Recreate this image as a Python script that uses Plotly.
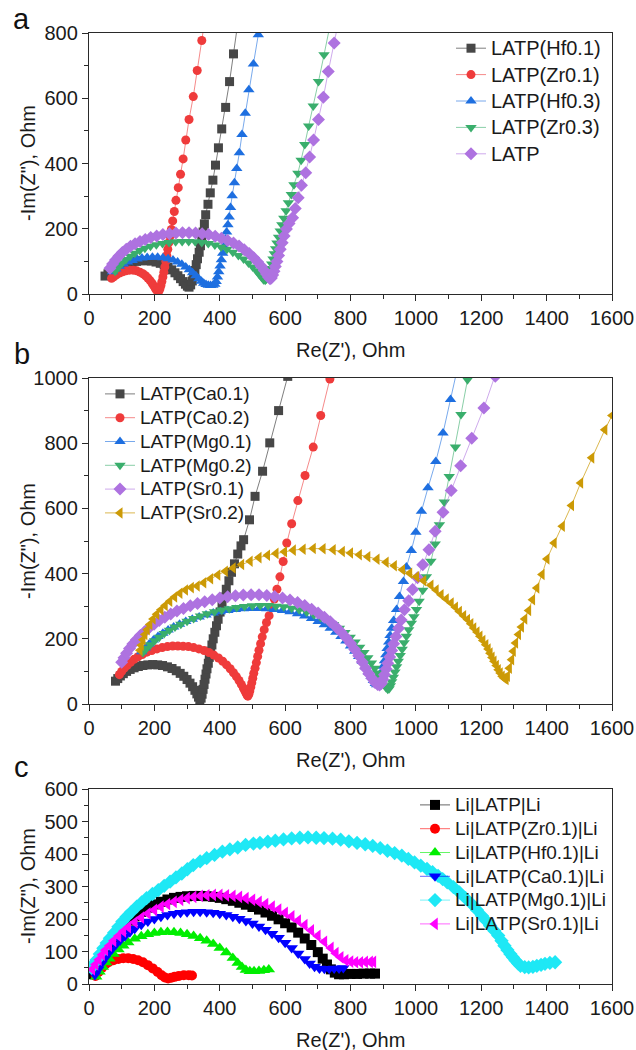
import plotly.graph_objects as go

# ---------------- data (Re(Z'), -Im(Z'')) ----------------
# Panel a
A_NAMES = ["LATP(Hf0.1)", "LATP(Zr0.1)", "LATP(Hf0.3)", "LATP(Zr0.3)", "LATP"]
A_HF01 = [(49,55),(58,62),(68,69),(80,76),(92,82),(105,88),(118,93),(132,97),(146,100),(160,102),(175,102),(190,101),
          (205,98),(218,94),(230,89),(242,82),(253,74),(263,65),(272,56),(280,47),(288,38),(295,30),(301,24),(306,21),
          (311,28),(316,40),(320,55),(324,72),(328,90),(332,108),(337,128),(341,148),(345,170),(349,190),(353,215),
          (357,243),(364,275),(371,310),(379,349),(387,395),(396,448),(406,506),(418,572),(430,651),(442,736),(454,822)]
A_ZR01 = [(69,48),(76,53),(84,59),(93,64),(103,68),(113,71),(124,73),(135,73),(146,71),(156,67),(165,62),(173,56),
          (180,49),(187,41),(193,33),(198,25),(203,17),(207,11),(211,7),(214,9),(217,16),(220,26),(223,38),(226,52),
          (229,67),(232,83),(235,100),(238,118),(241,137),(244,157),(248,177),(252,198),(256,224),(261,253),(266,287),
          (273,326),(280,367),(288,414),(296,472),(306,535),(319,605),(331,685),(345,777),(359,870)]
A_HF03 = [(72,68),(82,77),(93,85),(105,92),(118,98),(132,103),(147,107),(162,110),(178,112),(194,113),(210,113),
          (226,111),(242,108),(257,104),(271,98),(284,91),(296,83),(307,74),(317,65),(327,56),(336,47),(344,39),
          (351,33),(358,29),(365,27),(372,26),(379,27),(385,30),(389,38),(393,52),(397,68),(401,86),(405,105),
          (409,125),(413,146),(417,168),(421,190),(425,212),(429,236),(433,265),(438,301),(445,341),(452,385),
          (460,433),(468,489),(478,554),(489,626),(503,705),(518,795),(533,885)]
A_ZR03 = [(80,70),(90,83),(101,95),(113,106),(126,116),(140,125),(155,133),(171,140),(188,146),(206,151),(225,155),
          (245,158),(265,160),(285,161),(305,161),(325,160),(345,158),(365,155),(385,150),(404,144),(422,137),
          (440,128),(457,118),(473,107),(488,95),(501,83),(512,71),(521,60),(528,51),(534,44),(539,42),(543,46),
          (547,54),(551,65),(555,78),(559,92),(563,107),(567,123),(571,139),(575,156),(580,174),(585,193),(590,212),
          (596,232),(603,255),(610,280),(619,305),(627,335),(639,370),(649,410),(660,458),(672,515),(686,576),
          (702,651),(719,733),(737,822)]
A_LATP = [(64,79),(72,92),(81,104),(91,116),(102,127),(114,137),(127,146),(141,154),(156,161),(172,167),(189,173),
          (207,178),(226,182),(246,185),(266,187),(286,188),(306,188),(326,187),(346,185),(366,182),(386,177),
          (405,171),(424,164),(442,156),(459,147),(475,136),(490,124),(504,111),(516,98),(527,85),(536,72),(543,61),
          (549,52),(554,47),(558,49),(562,58),(566,70),(570,84),(575,100),(580,118),(585,137),(591,157),(597,178),
          (604,199),(612,216),(623,234),(631,262),(640,295),(650,333),(663,372),(675,420),(687,472),(702,535),
          (717,603),(732,682),(750,769),(768,858)]

# Panel b
B_NAMES = ["LATP(Ca0.1)", "LATP(Ca0.2)", "LATP(Mg0.1)", "LATP(Mg0.2)", "LATP(Sr0.1)", "LATP(Sr0.2)"]
B_CA01 = [(81,70),(88,78),(96,86),(105,93),(115,100),(126,106),(138,111),(151,115),(165,118),(180,120),(195,121),
          (210,120),(225,118),(240,114),(254,109),(267,102),(279,94),(290,85),(300,75),(309,64),(317,53),(324,42),
          (330,31),(335,21),(339,12),(343,18),(346,30),(349,45),(352,60),(355,76),(358,92),(361,108),(365,125),
          (368,143),(372,162),(376,181),(380,200),(385,220),(390,240),(395,260),(401,282),(407,305),(413,328),
          (420,352),(428,378),(436,404),(445,430),(455,460),(465,485),(473,504),(491,565),(508,637),(531,714),
          (553,801),(580,900),(608,1005)]
B_CA02 = [(93,90),(100,100),(108,110),(117,119),(127,128),(138,137),(150,145),(163,152),(177,159),(192,164),
          (208,169),(224,173),(240,176),(256,178),(272,178),(288,177),(304,176),(320,173),(336,169),(352,164),
          (367,158),(382,150),(396,141),(409,131),(421,120),(432,108),(442,96),(451,84),(459,72),(466,60),(472,49),
          (477,40),(481,32),(484,27),(486,24),(489,30),(492,40),(495,52),(498,65),(501,79),(504,94),(508,110),
          (512,127),(516,146),(520,165),(525,185),(530,206),(536,228),(543,250),(551,271),(559,295),(567,322),
          (575,352),(584,390),(594,437),(605,494),(620,553),(639,624),(661,701),(686,788),(709,885),(737,997),
          (745,1030)]
B_MG01 = [(161,160),(172,172),(184,184),(197,196),(211,207),(226,217),(242,227),(259,236),(277,245),(296,253),
          (316,260),(337,267),(358,273),(380,279),(402,283),(425,287),(448,290),(472,292),(496,293),(520,293),
          (544,292),(568,290),(592,287),(615,283),(638,277),(660,270),(681,262),(701,253),(720,243),(738,232),
          (755,220),(771,207),(786,193),(800,178),(813,162),(825,146),(836,130),(846,114),(855,98),(863,84),
          (870,72),(876,63),(880,59),(884,62),(888,72),(892,85),(896,100),(900,116),(904,133),(908,151),(912,170),
          (917,190),(921,210),(926,232),(932,256),(941,290),(950,330),(962,376),(971,420),(986,471),(1000,527),
          (1017,591),(1037,663),(1061,744),(1083,831),(1106,934),(1125,1020)]
B_MG02 = [(165,158),(176,170),(188,182),(201,194),(215,205),(230,216),(246,226),(263,236),(281,245),(300,254),
          (320,262),(341,270),(362,277),(384,283),(406,288),(429,292),(452,296),(476,299),(500,301),(524,302),
          (548,302),(572,300),(596,298),(620,294),(643,289),(666,282),(688,274),(709,265),(729,255),(748,244),
          (766,232),(783,219),(799,205),(814,190),(828,174),(841,158),(853,142),(864,126),(874,110),(883,95),
          (891,81),(898,69),(904,58),(909,50),(914,45),(918,47),(922,56),(926,68),(931,82),(936,98),(941,114),
          (946,131),(952,149),(958,168),(964,188),(971,208),(978,228),(986,248),(994,268),(1002,290),(1010,315),
          (1021,349),(1032,390),(1046,438),(1059,491),(1072,550),(1087,620),(1102,698),(1121,788),(1138,888),
          (1158,995),(1162,1020)]
B_SR01 = [(100,128),(107,142),(115,156),(124,170),(134,184),(145,197),(157,210),(170,222),(184,234),(199,245),
          (215,256),(232,266),(250,276),(269,285),(289,293),(310,301),(332,308),(354,314),(377,320),(400,325),
          (424,329),(448,332),(472,334),(496,335),(520,335),(544,333),(568,330),(592,325),(615,319),(638,311),
          (660,302),(681,291),(701,279),(720,266),(738,252),(755,237),(771,221),(786,204),(800,186),(813,167),
          (825,148),(836,129),(846,110),(856,93),(866,78),(875,66),(883,60),(889,58),(894,63),(899,75),(904,90),
          (909,107),(914,125),(920,144),(926,164),(932,185),(939,207),(947,232),(955,258),(965,289),(978,317),
          (990,351),(1005,387),(1021,427),(1040,473),(1059,530),(1083,588),(1108,655),(1137,731),(1171,815),
          (1208,908),(1243,1005),(1250,1030)]
B_SR02 = [(156,165),(160,180),(165,197),(171,213),(178,228),(186,244),(196,261),(207,275),(220,289),(233,302),
          (247,315),(262,328),(278,340),(295,350),(313,357),(331,362),(351,372),(372,384),(394,396),(417,407),
          (441,417),(467,428),(493,438),(520,449),(546,456),(572,462),(598,467),(625,472),(655,475),(686,477),
          (716,476),(747,473),(775,468),(800,463),(827,458),(853,452),(881,444),(909,435),(934,424),(959,412),
          (981,401),(1002,390),(1024,378),(1046,364),(1062,350),(1077,335),(1093,322),(1108,310),(1121,297),
          (1133,284),(1146,271),(1158,259),(1168,246),(1177,233),(1187,221),(1196,208),(1205,195),(1214,182),
          (1221,169),(1227,156),(1233,143),(1239,131),(1246,118),(1252,105),(1258,95),(1264,85),(1270,79),(1276,75),
          (1280,85),(1286,110),(1293,136),(1298,162),(1305,187),(1314,213),(1323,236),(1333,261),(1345,287),
          (1357,320),(1370,356),(1386,397),(1401,445),(1423,494),(1448,545),(1476,609),(1504,678),(1538,755),
          (1578,841),(1600,885)]

# Panel c
C_NAMES = ["Li|LATP|Li", "Li|LATP(Zr0.1)|Li", "Li|LATP(Hf0.1)|Li", "Li|LATP(Ca0.1)|Li",
           "Li|LATP(Mg0.1)|Li", "Li|LATP(Sr0.1)|Li"]
C_LATP = [(15,30),(25,50),(35,70),(45,88),(55,105),(65,120),(75,135),(85,150),(95,163),(110,180),(125,195),(140,208),
          (160,222),(180,235),(200,245),(220,253),(240,260),(260,265),(280,268),(300,270),(320,271),(340,271),
          (360,270),(380,268),(400,265),(420,261),(440,256),(460,250),(480,244),(500,237),(520,229),(540,220),
          (560,210),(580,199),(600,187),(620,174),(640,158),(660,140),(680,120),(700,98),(715,78),(728,60),(740,45),
          (752,35),(765,30),(780,30),(800,31),(820,31),(840,32),(860,32),(875,32)]
C_ZR01 = [(20,25),(30,38),(40,50),(50,60),(60,67),(75,73),(90,77),(105,79),(120,79),(135,77),(150,73),(165,67),
          (180,58),(195,48),(210,37),(222,27),(232,20),(242,17),(252,19),(262,22),(275,25),(290,27),(305,27),(315,26)]
C_HF01 = [(22,22),(32,38),(42,52),(52,66),(62,78),(75,92),(90,106),(105,118),(120,128),(140,139),(160,147),
          (180,153),(200,157),(220,159),(240,160),(260,159),(280,157),(300,153),(320,148),(340,141),(360,133),
          (380,123),(400,111),(420,97),(440,80),(455,65),(468,52),(480,43),(492,39),(505,39),(520,40),(535,42),
          (550,45)]
C_CA01 = [(18,28),(28,45),(38,62),(48,78),(58,92),(70,107),(82,121),(95,134),(110,147),(125,159),(140,170),
          (160,182),(180,192),(200,200),(220,207),(240,212),(260,216),(280,219),(300,221),(320,222),(340,222),
          (360,221),(380,219),(400,216),(420,212),(440,207),(460,201),(480,194),(500,186),(520,177),(540,167),
          (560,155),(580,142),(600,127),(620,111),(640,94),(660,77),(675,63),(690,53),(705,48),(720,47),(735,47),
          (750,48),(765,48),(778,49)]
C_MG01 = [(8,50),(15,62),(23,74),(33,92),(44,110),(54,126),(64,141),(77,158),(90,176),(102,192),(115,207),
          (130,222),(146,238),(161,251),(176,264),(194,277),(212,289),(230,302),(248,315),(266,328),(284,340),
          (301,353),(319,366),(340,377),(360,387),(384,397),(408,407),(431,414),(455,420),(479,428),(503,432),
          (523,434),(547,438),(570,441),(595,445),(620,448),(645,450),(670,451),(695,450),(719,449),(745,447),
          (770,444),(795,439),(820,434),(845,430),(868,425),(891,418),(913,410),(935,403),(957,395),(977,385),
          (996,374),(1015,364),(1034,354),(1051,344),(1068,333),(1082,323),(1096,313),(1115,298),(1133,282),
          (1152,264),(1171,246),(1187,228),(1202,210),(1215,195),(1227,179),(1240,164),(1252,149),(1262,133),
          (1271,118),(1280,105),(1289,92),(1297,82),(1305,72),(1313,63),(1320,56),(1333,52),(1345,51),(1358,53),
          (1370,56),(1383,59),(1395,62),(1410,65),(1426,67)]
C_SR01 = [(10,45),(20,60),(30,75),(40,90),(50,104),(62,118),(75,133),(90,148),(105,162),(120,175),(140,190),
          (160,204),(180,217),(200,228),(220,238),(240,246),(260,253),(280,259),(300,264),(320,268),(340,271),
          (360,273),(380,274),(400,274),(420,273),(440,271),(460,268),(480,264),(500,259),(520,253),(540,246),
          (560,238),(580,229),(600,219),(620,208),(640,195),(660,181),(680,165),(700,148),(720,130),(740,111),
          (755,95),(770,82),(785,73),(800,69),(815,67),(830,67),(845,68),(860,68),(870,68)]

X_TICKS = [0, 200, 400, 600, 800, 1000, 1200, 1400, 1600]

# ---------------- styling ----------------
W, H = 636, 1050
FONT = "Liberation Sans, Arial, Helvetica, sans-serif"
AX = "#2a2a2a"

def py(p):
    return 1 - p / H

X_DOM = [89 / W, 612 / W]
DOMS = {"a": [py(294), py(33)], "b": [py(704), py(378)], "c": [py(984), py(789)]}

A_STYLE = [("#474747", "rgba(71,71,71,0.7)", "square", 9),
           ("#EF3B3B", "rgba(239,59,59,0.6)", "circle", 9),
           ("#1E6FE0", "rgba(30,111,224,0.6)", "triangle-up", 10),
           ("#3AAE6C", "rgba(58,174,108,0.6)", "triangle-down", 10),
           ("#AE72E0", "rgba(174,114,224,0.6)", "diamond", 10)]
B_STYLE = [("#474747", "rgba(71,71,71,0.7)", "square", 9),
           ("#EF3B3B", "rgba(239,59,59,0.6)", "circle", 9),
           ("#1E6FE0", "rgba(30,111,224,0.6)", "triangle-up", 10),
           ("#3AAE6C", "rgba(58,174,108,0.6)", "triangle-down", 10),
           ("#AE72E0", "rgba(174,114,224,0.6)", "diamond", 10),
           ("#CC9A06", "rgba(204,154,6,0.7)", "triangle-left", 10)]
C_STYLE = [("#000000", "rgba(0,0,0,0.6)", "square", 10),
           ("#FF0000", "rgba(255,0,0,0.6)", "circle", 10),
           ("#00EE00", "rgba(0,238,0,0.6)", "triangle-up", 11),
           ("#0000FF", "rgba(0,0,255,0.6)", "triangle-down", 11),
           ("#1EE8F5", "rgba(30,232,245,0.6)", "diamond", 11),
           ("#FF00FF", "rgba(255,0,255,0.6)", "triangle-left", 11)]

fig = go.Figure()

def add_panel(names, datas, styles, xa, ya, leg, txt_size):
    for name, data, (mc, lc, sym, sz) in zip(names, datas, styles):
        xs, ys = zip(*data)
        fig.add_trace(go.Scatter(
            x=list(xs), y=list(ys),
            name="<span style='font-size:%dpx'>%s</span>" % (txt_size, name),
            mode="lines+markers",
            line=dict(color=lc, width=1),
            marker=dict(symbol=sym, size=sz, color=mc, line=dict(width=0)),
            xaxis=xa, yaxis=ya, legend=leg))

add_panel(A_NAMES, [A_HF01, A_ZR01, A_HF03, A_ZR03, A_LATP], A_STYLE, "x", "y", "legend", 20)
add_panel(B_NAMES, [B_CA01, B_CA02, B_MG01, B_MG02, B_SR01, B_SR02], B_STYLE, "x2", "y2", "legend2", 19)
add_panel(C_NAMES, [C_LATP, C_ZR01, C_HF01, C_CA01, C_MG01, C_SR01], C_STYLE, "x3", "y3", "legend3", 19)

def minor(dt):
    return dict(ticks="outside", ticklen=3.5, tickwidth=1.2, tickcolor=AX, dtick=dt, tick0=0)

def axis_common(**kw):
    d = dict(showline=True, linecolor=AX, linewidth=1.3, mirror=True, ticks="outside",
             ticklen=6, tickwidth=1.3, tickcolor=AX, showgrid=False, zeroline=False, automargin=False,
             tickfont=dict(family=FONT, size=20, color="#1a1a1a"))
    d.update(kw)
    return d

def legend_box(x, ytop, size):
    return dict(x=x / W, y=py(ytop), xanchor="left", yanchor="top", bgcolor="rgba(0,0,0,0)",
                font=dict(family=FONT, size=size, color="#1a1a1a"), tracegroupgap=0)

layout = dict(
    template="none",
    width=W, height=H, margin=dict(l=0, r=0, t=0, b=0, autoexpand=False), autosize=False,
    paper_bgcolor="white", plot_bgcolor="white", font=dict(family=FONT, color="#1a1a1a"),
    xaxis=axis_common(domain=X_DOM, anchor="y", range=[0, 1600], tickvals=X_TICKS, minor=minor(100)),
    yaxis=axis_common(domain=DOMS["a"], anchor="x", range=[0, 800], dtick=200, tick0=0, minor=minor(100)),
    xaxis2=axis_common(domain=X_DOM, anchor="y2", range=[0, 1600], tickvals=X_TICKS, minor=minor(100)),
    yaxis2=axis_common(domain=DOMS["b"], anchor="x2", range=[0, 1000], dtick=200, tick0=0, minor=minor(100)),
    xaxis3=axis_common(domain=X_DOM, anchor="y3", range=[0, 1600], tickvals=X_TICKS, minor=minor(100)),
    yaxis3=axis_common(domain=DOMS["c"], anchor="x3", range=[0, 600], dtick=100, tick0=0, minor=minor(50)),
    legend=legend_box(451, 30, 18),
    legend2=legend_box(100, 377, 16),
    legend3=legend_box(415, 788, 16),
    showlegend=True,
)
fig.update_layout(**layout)

anns = []
XT = "Re(Z'), Ohm"
YT = '-Im(Z"), Ohm'
for ycen in (350, 760, 1040):
    anns.append(dict(text=XT, x=350.5 / W, y=py(ycen), xref="paper", yref="paper",
                     xanchor="center", yanchor="middle", showarrow=False,
                     font=dict(family=FONT, size=20, color="#1a1a1a")))
for ycen in (163, 541, 886):
    anns.append(dict(text=YT, x=28 / W, y=py(ycen), xref="paper", yref="paper", textangle=-90,
                     xanchor="center", yanchor="middle", showarrow=False,
                     font=dict(family=FONT, size=20, color="#1a1a1a")))
for lab, (lx, ly) in zip(["a", "b", "c"], [(21, 19), (22, 354), (21, 767)]):
    anns.append(dict(text=lab, x=lx / W, y=py(ly), xref="paper", yref="paper",
                     xanchor="center", yanchor="middle", showarrow=False,
                     font=dict(family=FONT, size=29, color="#111111")))
fig.update_layout(annotations=anns)

fig.write_html("out.html",
               config={"displayModeBar": False, "responsive": False},
               post_script="document.body.style.margin='0px';document.body.style.overflow='hidden';"
                           "document.documentElement.style.overflow='hidden';")
